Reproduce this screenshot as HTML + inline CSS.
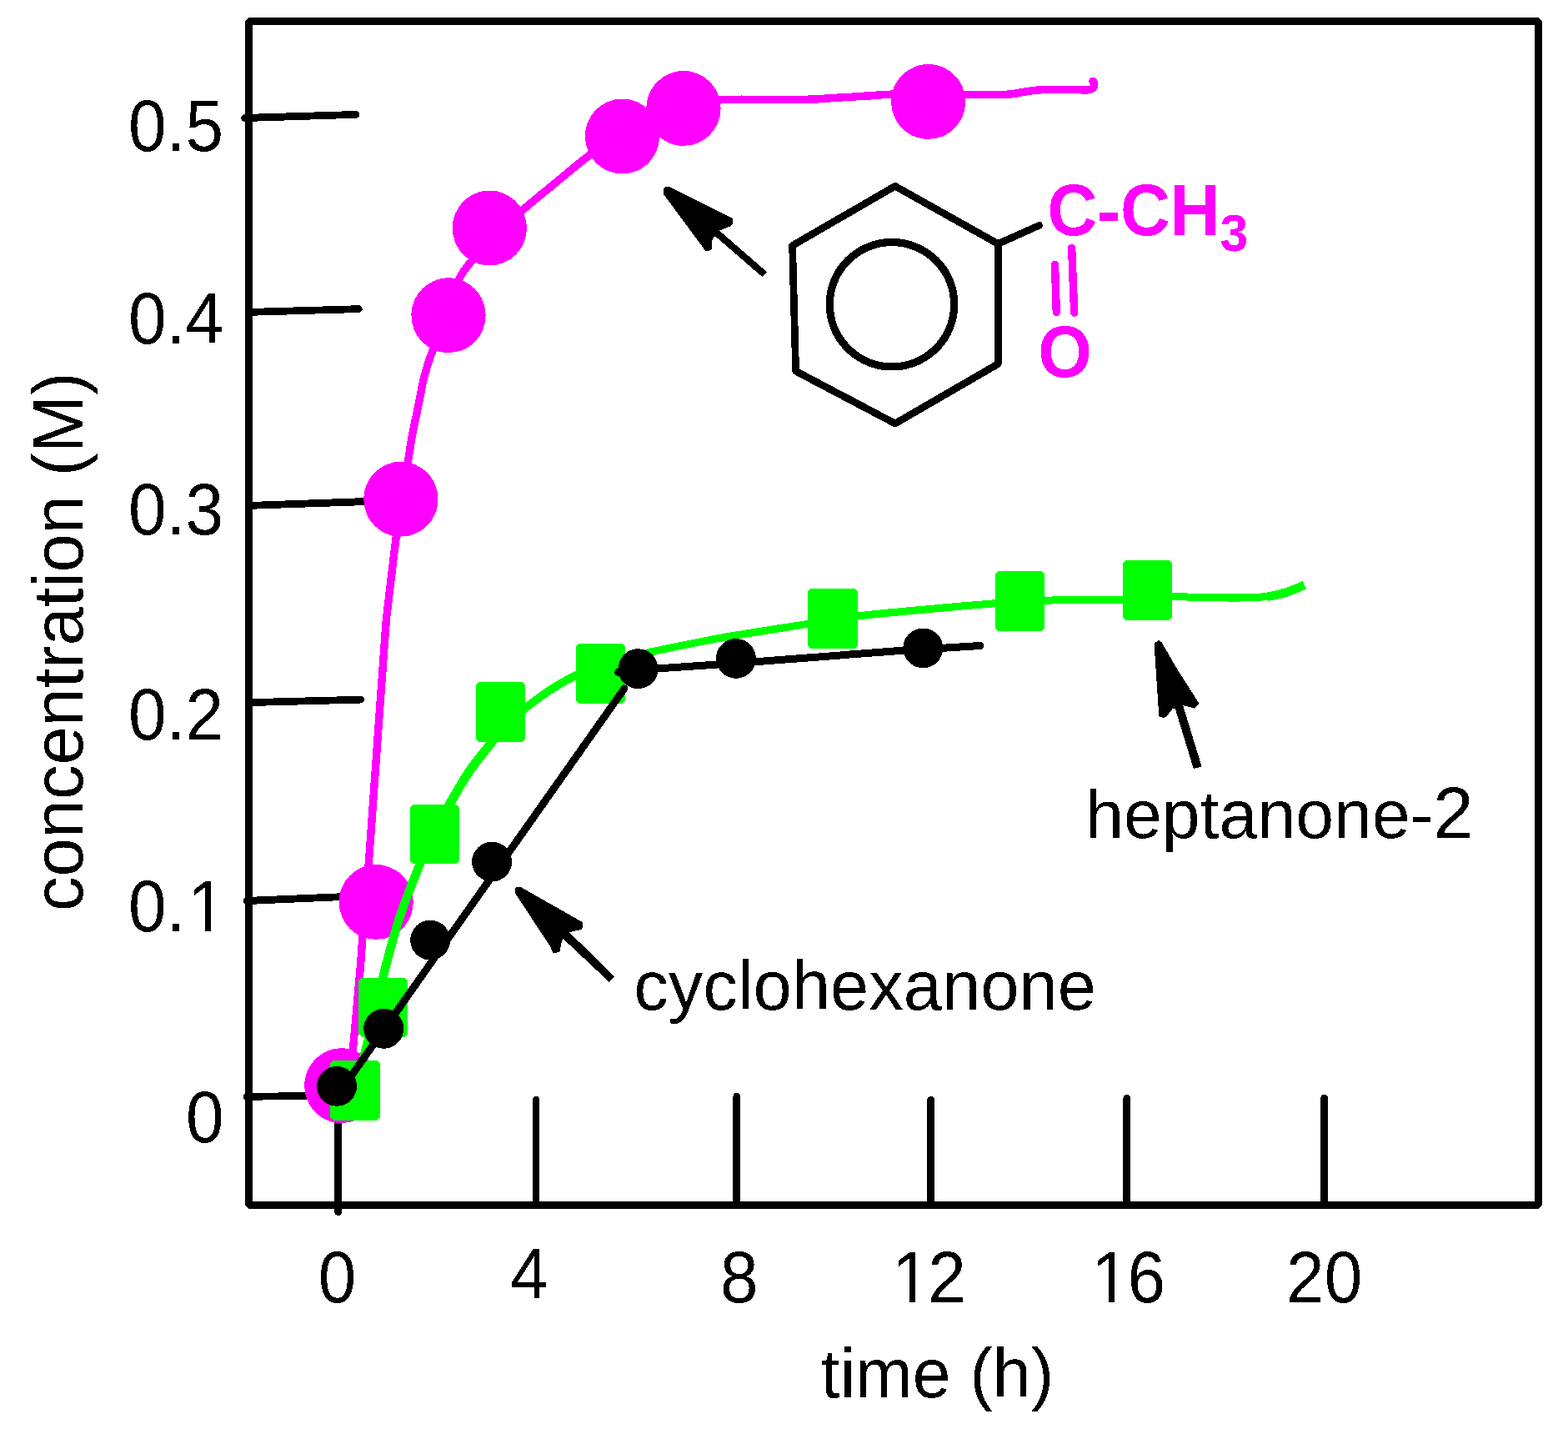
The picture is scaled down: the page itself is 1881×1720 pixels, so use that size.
<!DOCTYPE html>
<html lang="en">
<head>
<meta charset="utf-8">
<title>Ketone concentration vs time</title>
<style>
  html, body { margin: 0; padding: 0; background: #ffffff; }
  body { width: 1881px; height: 1720px; overflow: hidden; }
  svg { display: block; }
  text { font-family: "Liberation Sans", Arial, Helvetica, sans-serif; font-size: 82px; fill: #000000; }
  text.m { font-weight: bold; fill: #ff00ff; }
  .k { stroke: #000000; fill: none; stroke-width: 9; stroke-linecap: round; stroke-linejoin: round; }
  .mg { stroke: #ff00ff; fill: none; stroke-width: 9.4; stroke-linecap: round; stroke-linejoin: round; }
  .gr { stroke: #00ff00; fill: none; stroke-width: 9; stroke-linecap: butt; stroke-linejoin: round; }
</style>
</head>
<body>
<svg width="1881" height="1720" viewBox="0 0 1881 1720">
  <defs>
    <!-- hard-edged (non-antialiased) look of the original bitmap figure -->
    <filter id="hard" x="0" y="0" width="1881" height="1720" filterUnits="userSpaceOnUse" color-interpolation-filters="sRGB">
      <feComponentTransfer>
        <feFuncR type="discrete" tableValues="0 1"/>
        <feFuncG type="discrete" tableValues="0 1"/>
        <feFuncB type="discrete" tableValues="0 1"/>
      </feComponentTransfer>
    </filter>
  </defs>
  <g filter="url(#hard)">
  <rect x="0" y="0" width="1881" height="1720" fill="#ffffff"/>

  <!-- y axis ticks -->
  <g class="k" style="stroke-width:8.8">
    <line x1="293.7" y1="141.5" x2="426.8" y2="137.4"/>
    <line x1="300" y1="374.3" x2="430.3" y2="370.6"/>
    <line x1="300" y1="606.4" x2="440" y2="601.5"/>
    <line x1="300" y1="842.7" x2="432.6" y2="839.1"/>
    <line x1="296" y1="1080.5" x2="410" y2="1075.7"/>
    <line x1="296" y1="1315.3" x2="372" y2="1314.3"/>
  </g>
  <!-- x axis ticks -->
  <g class="k">
    <line x1="405.6" y1="1340" x2="405.6" y2="1453.8" stroke-width="8.6"/>
    <line x1="643.1" y1="1318.7" x2="643.1" y2="1445" stroke-width="7.8"/>
    <line x1="883.8" y1="1315" x2="883.8" y2="1445" stroke-width="8.6"/>
    <line x1="1116.6" y1="1319.4" x2="1116.6" y2="1445" stroke-width="9"/>
    <line x1="1351.7" y1="1317.3" x2="1351.7" y2="1445" stroke-width="8.6"/>
    <line x1="1588.7" y1="1317.3" x2="1588.7" y2="1445" stroke-width="9"/>
  </g>
  <!-- plot frame -->
  <rect x="298.6" y="25.4" width="1547.1" height="1419.9" fill="none" stroke="#000000" stroke-width="9" stroke-linejoin="bevel"/>
  <!-- acetophenone (magenta) -->
  <path class="mg" d="M419.5 1302 C420.17 1294.62 421.37 1281.37 423.5 1257.7 C425.63 1234.03 430.43 1181.78 432.3 1160 C434.17 1138.22 433.07 1147.33 434.7 1127 C436.33 1106.67 439.22 1075.83 442.1 1038 C444.98 1000.17 448.67 946.33 452 900 C455.33 853.67 459.95 788.33 462.1 760 C464.25 731.67 462.7 749.42 464.9 730 C467.1 710.58 472.53 665.5 475.3 643.5 C478.07 621.5 479.17 612.92 481.5 598 C483.83 583.08 487.1 566.83 489.3 554 C491.5 541.17 492.55 532.5 494.7 521 C496.85 509.5 500.15 495.17 502.2 485 C504.25 474.83 505.35 467.4 507 460 C508.65 452.6 510 447.53 512.1 440.6 C514.2 433.67 516.12 428.83 519.6 418.4 C523.08 407.97 527.6 392.32 533 378 C538.4 363.68 546.67 343.17 552 332.5 C557.33 321.83 558.67 321.92 565 314 C571.33 306.08 579.75 295.28 590 285 C600.25 274.72 613.63 263.37 626.5 252.3 C639.37 241.23 653.62 229.72 667.2 218.6 C680.78 207.48 694.78 195.2 708 185.6 C721.22 176 732.83 169.1 746.5 161 C760.17 152.9 777.75 142.83 790 137 C802.25 131.17 807.67 128.87 820 126 C832.33 123.13 845.67 120.87 864 119.8 C882.33 118.73 913.17 119.65 930 119.6 C946.83 119.55 953.33 119.85 965 119.5 C976.67 119.15 987.5 118.25 1000 117.5 C1012.5 116.75 1028 115.75 1040 115 C1052 114.25 1059.73 113.33 1072 113 C1084.27 112.67 1099.6 112.93 1113.6 113 C1127.6 113.07 1140.27 113.35 1156 113.4 C1171.73 113.45 1195.95 113.83 1208 113.3 C1220.05 112.77 1221.55 111.13 1228.3 110.2 C1235.05 109.27 1241.22 108.17 1248.5 107.7 C1255.78 107.23 1264.25 107.43 1272 107.4 C1279.75 107.37 1290 107.38 1295 107.5 C1300 107.62 1300.83 108 1302 108.1"/>
  <path class="mg" d="M1300 108 C1307 108.6 1312.6 107 1312.6 101.5 C1312.6 99.5 1312 98.2 1310.9 97.4"/>
  <g fill="#ff00ff">
    <ellipse cx="409.8" cy="1302.2" rx="44.6" ry="44.9"/>
    <ellipse cx="451.2" cy="1081.9" rx="44.6" ry="44.9"/>
    <ellipse cx="480.9" cy="598.7" rx="44.6" ry="44.9"/>
    <ellipse cx="538" cy="378.2" rx="44.6" ry="44.9"/>
    <ellipse cx="587.3" cy="273.5" rx="44.6" ry="44.9"/>
    <ellipse cx="746.5" cy="163.4" rx="44.6" ry="44.9"/>
    <ellipse cx="820" cy="129.9" rx="44.6" ry="44.9"/>
    <ellipse cx="1113.6" cy="121.9" rx="44.6" ry="44.9"/>
  </g>
  <!-- heptanone-2 (green) -->
  <path class="gr" d="M426 1308 C427.83 1300.33 433.5 1275.83 437 1262 C440.5 1248.17 442.85 1242 447 1225 C451.15 1208 456.4 1181.38 461.9 1160 C467.4 1138.62 473.1 1117.4 480 1096.7 C486.9 1076 496.63 1052.42 503.3 1035.8 C509.97 1019.18 514.2 1008.82 520 997 C525.8 985.18 531.1 976.9 538.1 964.9 C545.1 952.9 553.47 937.52 562 925 C570.53 912.48 581.63 899.3 589.3 889.8 C596.97 880.3 601.22 874.8 608 868 C614.78 861.2 621.33 855.83 630 849 C638.67 842.17 649.85 833.58 660 827 C670.15 820.42 680.9 814.33 690.9 809.5 C700.9 804.67 710.15 801.33 720 798 C729.85 794.67 739.62 792.23 750 789.5 C760.38 786.77 765.63 785.2 782.3 781.6 C798.97 778 833.72 771.08 850 767.9 C866.28 764.72 860.17 765.75 880 762.5 C899.83 759.25 944.17 752.32 969 748.4 C993.83 744.48 1005.5 741.9 1029 739 C1052.5 736.1 1082.55 733.55 1110 731 C1137.45 728.45 1169.8 725.5 1193.7 723.7 C1217.6 721.9 1235.68 720.92 1253.4 720.2 C1271.12 719.48 1284.4 719.6 1300 719.4 C1315.6 719.2 1329.27 719.63 1347 719 C1364.73 718.37 1391.57 716.03 1406.4 715.6 C1421.23 715.17 1422.57 716.18 1436 716.4 C1449.43 716.62 1473 717.07 1487 716.9 C1501 716.73 1510.67 716.35 1520 715.4 C1529.33 714.45 1535.53 713.48 1543 711.2 C1550.47 708.92 1561.17 703.28 1564.8 701.7"/>
  <path class="gr" style="stroke-width:10.4" d="M1520 715.4 C1529 714.6 1543 711.6 1564.8 701.7"/>
  <path class="gr" style="stroke-width:10.4" transform="translate(0.7 0.2)" d="M447 1225 C451.15 1208 456.4 1181.38 461.9 1160 C467.4 1138.62 473.1 1117.4 480 1096.7 C486.9 1076 496.63 1052.42 503.3 1035.8 C509.97 1019.18 514.2 1008.82 520 997"/>
  <path class="gr" style="stroke-width:10.7" transform="translate(0.85 0.5)" d="M520 997 C525.8 985.18 531.1 976.9 538.1 964.9 C545.1 952.9 553.47 937.52 562 925 C570.53 912.48 581.63 899.3 589.3 889.8 C596.97 880.3 601.22 874.8 608 868"/>
  <path class="gr" style="stroke-width:9.3" transform="translate(0 0.8)" d="M608 868 C614.78 861.2 621.33 855.83 630 849 C638.67 842.17 649.85 833.58 660 827 C670.15 820.42 680.9 814.33 690.9 809.5 C700.9 804.67 710.15 801.33 720 798"/>
  <g fill="#00ff00">
    <path d="M399.8 1272.1 H452.1 L455.6 1275.6 V1340.2 L452.1 1343.7 H399.8 L396.3 1340.2 V1275.6 Z"/>
    <path d="M434 1172.8 H485.3 L488.8 1176.3 V1240.2 L485.3 1243.7 H434 L430.5 1240.2 V1176.3 Z"/>
    <path d="M495.6 964.9 H547.4 L550.9 968.4 V1032.3 L547.4 1035.8 H495.6 L492.1 1032.3 V968.4 Z"/>
    <path d="M574.2 818.1 H626.5 L630 821.6 V886.3 L626.5 889.8 H574.2 L570.7 886.3 V821.6 Z"/>
    <path d="M694.4 771.9 H746.7 L750.2 775.4 V840.2 L746.7 843.7 H694.4 L690.9 840.2 V775.4 Z"/>
    <path d="M972.6 705.8 H1025.6 L1029.1 709.3 V774.4 L1025.6 777.9 H972.6 L969.1 774.4 V709.3 Z"/>
    <path d="M1197.5 684.9 H1249.9 L1253.4 688.4 V753.4 L1249.9 756.9 H1197.5 L1194 753.4 V688.4 Z"/>
    <path d="M1350.5 672.1 H1402.9 L1406.4 675.6 V740.5 L1402.9 744 H1350.5 L1347 740.5 V675.6 Z"/>
  </g>
  <!-- cyclohexanone (black) -->
  <path class="k" d="M411.6 1304.3 L748.8 826"/>
  <path class="k" d="M741.5 806.5 L765.5 803.5 L882.9 795.5 L1082.6 780.2 L1175.8 774.4"/>
  <g fill="#000000">
    <circle cx="404.1" cy="1302.8" r="24"/>
    <circle cx="460.2" cy="1233.8" r="24"/>
    <circle cx="516.2" cy="1127.6" r="24"/>
    <circle cx="590.1" cy="1033.6" r="24"/>
    <circle cx="765.5" cy="802.2" r="24"/>
    <circle cx="882.9" cy="789.9" r="24"/>
    <circle cx="1107.3" cy="777.4" r="24"/>
  </g>
  <!-- pointer arrows -->
  <g fill="#000000">
    <polygon points="795.87,226.32 798.31,223.96 804.42,224.53 878.89,261.97 878.89,268.89 876.85,270.92 863.01,276.62 919.99,326.27 914.29,331.96 858.13,283.54 856.1,283.95 853.66,290.46 853.66,299 851.62,300.39 846.33,301.04 795.87,232.67"/>
    <polygon points="618.07,1065.46 619.53,1064 624.82,1064 698.89,1106.16 698.89,1112.67 697.66,1114.7 683.01,1118.36 737.14,1171.27 730.63,1177.78 675.28,1125.69 673.25,1131.39 671.62,1141.15 665.11,1143.59 663.07,1142.78 660.23,1135.46 618.07,1071.57"/>
    <polygon points="1385.07,771.23 1389.78,768.08 1393.44,770.18 1411.24,801.06 1437.93,842.93 1437.41,845.55 1433.22,849.73 1419.09,846.07 1441.07,917.78 1440.55,919.87 1432.7,921.96 1431.65,921.44 1409.67,849.73 1407.05,849.73 1398.68,860.2 1395.01,860.73 1390.3,859.16 1385.07,780.12"/>
  </g>
  <!-- acetophenone structure -->
  <g class="k" style="stroke-width:8.7">
    <path d="M1073.8 223.3 L1197.3 292.5 L1197.3 436.6 L1073.8 508 L954.6 445.1 L950.6 294.5 Z"/>
    <circle cx="1070" cy="365.2" r="74.7" style="stroke-width:9.3"/>
    <line x1="1197.3" y1="292.5" x2="1246.6" y2="270.4"/>
  </g>
  <g class="mg">
    <line x1="1265.5" y1="317.4" x2="1267.3" y2="374.6"/>
    <line x1="1285.6" y1="297.1" x2="1288.7" y2="375"/>
  </g>
  <text class="m" transform="translate(1256.5 281.7) scale(1.0103 1.063)">C-CH<tspan style="font-size:60px" dy="18.3">3</tspan></text>
  <text class="m" transform="translate(1245.29 451.7) scale(1.0127 1.063)">O</text>
  <!-- series labels -->
  <text transform="translate(760.17 1211.2) scale(1.0144 1.02)">cyclohexanone</text>
  <text transform="translate(1302.18 1005.3) scale(1.0053 1.005)">heptanone-<tspan style="font-size:86.3px">2</tspan></text>
  <!-- axis titles -->
  <text transform="translate(984.75 1676.1) scale(1.0056 1.022)">time (h)</text>
  <text transform="translate(99.4 1093.03) rotate(-90) scale(1.0137 1.03)">concentration (M)</text>
  <!-- y axis tick labels -->
  <text transform="translate(154 181.2) scale(1 1.057)">0.5</text>
  <text transform="translate(154 412) scale(1 1.057)">0.4</text>
  <text transform="translate(154 641.2) scale(1 1.057)">0.3</text>
  <text transform="translate(154 886.6) scale(1 1.057)">0.2</text>
  <text transform="translate(154 1117) scale(1 1.057)">0.<tspan dx="2.8">1</tspan></text><rect x="230.43" y="1108.92" width="15.37" height="9.08" fill="#ffffff"/><rect x="253.05" y="1108.92" width="14.73" height="9.08" fill="#ffffff"/>
  <text transform="translate(222.9 1369.6) scale(1 1.057)">0</text>
  <!-- x axis tick labels -->
  <text transform="translate(381.7 1562.3) scale(1 1.057)">0</text>
  <text transform="translate(612.36 1558.2) scale(1 1.057)">4</text>
  <text transform="translate(864.05 1562.2) scale(1 1.057)">8</text>
  <text transform="translate(1068.7 1562) scale(1 1.057)"><tspan dx="1.5">1</tspan><tspan dx="-2.5">2</tspan></text><rect x="1075.45" y="1553.92" width="15.37" height="9.08" fill="#ffffff"/><rect x="1098.07" y="1553.92" width="14.73" height="9.08" fill="#ffffff"/>
  <text transform="translate(1307.9 1562.2) scale(1 1.057)"><tspan dx="1.5">1</tspan><tspan dx="-2.5">6</tspan></text><rect x="1314.65" y="1554.12" width="15.37" height="9.08" fill="#ffffff"/><rect x="1337.27" y="1554.12" width="14.73" height="9.08" fill="#ffffff"/>
  <text transform="translate(1543.09 1562.2) scale(1 1.057)">20</text>
  </g>
</svg>
</body>
</html>
